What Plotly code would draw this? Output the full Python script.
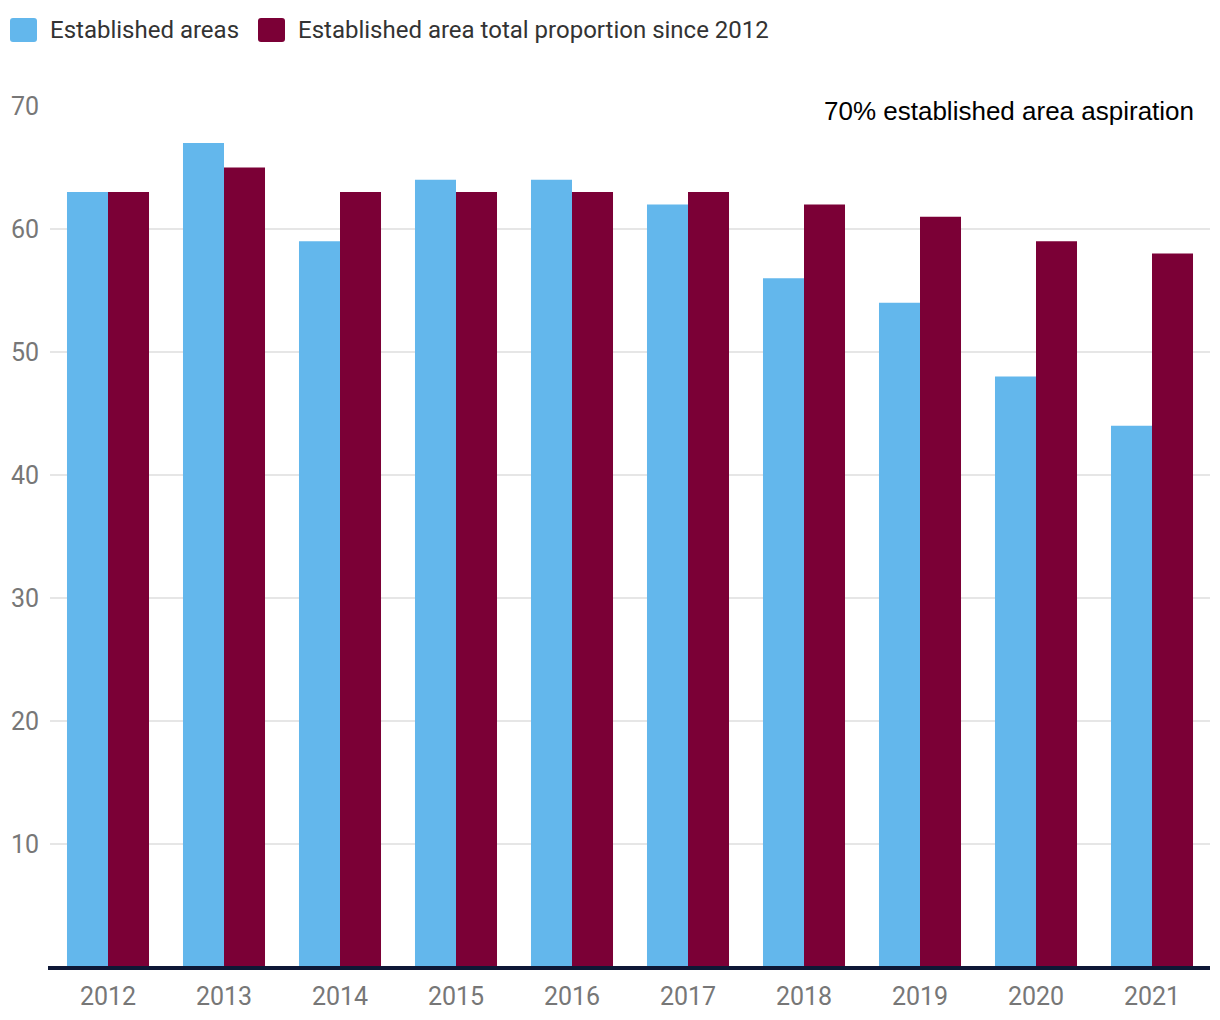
import plotly.graph_objects as go

years = ["2012", "2013", "2014", "2015", "2016", "2017", "2018", "2019", "2020", "2021"]
established_areas = [63, 67, 59, 64, 64, 62, 56, 54, 48, 44]
total_proportion = [63, 65, 63, 63, 63, 63, 62, 61, 59, 58]
series_names = ["Established areas", "Established area total proportion since 2012"]
colors = ["#63B7EC", "#7B0036"]
y_ticks = [10, 20, 30, 40, 50, 60, 70]
aspiration_value = 70
aspiration_label = "70% established area aspiration"

fig = go.Figure()
fig.add_trace(go.Bar(x=years, y=established_areas, name=series_names[0],
                     marker=dict(color=colors[0], line=dict(width=0))))
fig.add_trace(go.Bar(x=years, y=total_proportion, name=series_names[1],
                     marker=dict(color=colors[1], line=dict(width=0))))

L, R, T, B = 50, 10, 106, 53
W, H = 1220, 1020
pw, ph = W - L - R, H - T - B


def px(x):
    return (x - L) / pw


def py(y):
    return (H - B - y) / ph


shapes = []
annotations = []
# custom legend (rounded squares + labels)
legend_items = [(10, 37, 48), (258, 285, 296)]
for (x0, x1, tx), name, col in zip(legend_items, series_names, colors):
    r = 3
    y0, y1 = 18, 42
    path = (f"M {px(x0 + r)},{py(y0)} L {px(x1 - r)},{py(y0)} Q {px(x1)},{py(y0)} {px(x1)},{py(y0 + r)} "
            f"L {px(x1)},{py(y1 - r)} Q {px(x1)},{py(y1)} {px(x1 - r)},{py(y1)} "
            f"L {px(x0 + r)},{py(y1)} Q {px(x0)},{py(y1)} {px(x0)},{py(y1 - r)} "
            f"L {px(x0)},{py(y0 + r)} Q {px(x0)},{py(y0)} {px(x0 + r)},{py(y0)} Z")
    shapes.append(dict(type="path", xref="paper", yref="paper", path=path,
                       fillcolor=col, line=dict(width=0)))
    annotations.append(dict(xref="paper", yref="paper", x=px(tx), y=py(30),
                            xanchor="left", yanchor="middle", showarrow=False,
                            text=name, font=dict(family="Roboto", size=24, color="#333333")))

# axis baseline
shapes.append(dict(type="line", xref="paper", yref="paper", x0=px(48), x1=1,
                   y0=py(968), y1=py(968),
                   line=dict(color="#0E1836", width=4)))

annotations.append(dict(xref="paper", yref="y", x=px(1197), y=aspiration_value,
                        xanchor="right", yanchor="middle", yshift=-5, showarrow=False,
                        text=aspiration_label, bgcolor="white", borderpad=2,
                        font=dict(family="Liberation Sans", size=26, color="#000000")))

fig.update_layout(
    width=W, height=H,
    margin=dict(l=L, r=R, t=T, b=B),
    paper_bgcolor="white", plot_bgcolor="white",
    barmode="group", bargap=0.293, bargroupgap=0,
    showlegend=False,
    shapes=shapes, annotations=annotations,
    xaxis=dict(showgrid=False, showline=False, zeroline=False, ticks="",
               automargin=False,
               tickfont=dict(family="Roboto", size=25, color="#777777"),
               ticklabelstandoff=12),
    yaxis=dict(range=[0, 70], tickvals=y_ticks, showgrid=True, gridcolor="#E6E6E6",
               gridwidth=1.5, zeroline=False, showline=False, ticks="",
               automargin=False,
               tickfont=dict(family="Roboto", size=25, color="#777777"),
               ticklabelstandoff=10),
)

fig.write_html("out.html")
